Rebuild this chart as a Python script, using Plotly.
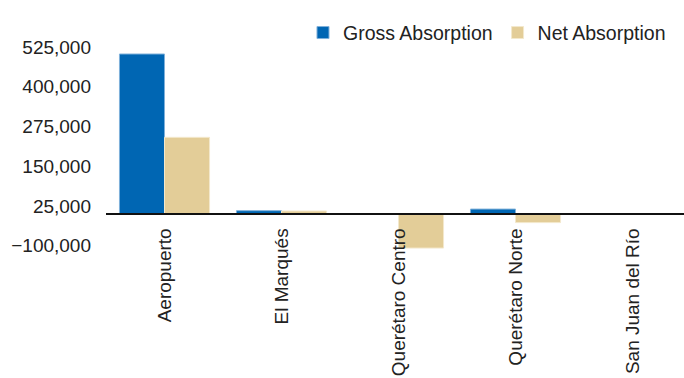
import plotly.graph_objects as go

categories = ["Aeropuerto", "El Marqués", "Querétaro Centro", "Querétaro Norte", "San Juan del Río"]
gross_absorption = [503000, 10500, 0, 15500, 0]
net_absorption = [241000, 9500, -107000, -27000, 0]
y_ticks = [-100000, 25000, 150000, 275000, 400000, 525000]

y_range = [-110000, 525000]
zero_pos = (0 - y_range[0]) / (y_range[1] - y_range[0])

FONT = "Liberation Sans"
TXT = "#222222"

fig = go.Figure()
fig.add_trace(go.Bar(
    x=categories, y=gross_absorption, name="Gross Absorption",
    marker=dict(color="#0066b3", line=dict(color="#7fb0da", width=1)),
))
fig.add_trace(go.Bar(
    x=categories, y=net_absorption, name="Net Absorption",
    marker=dict(color="#e3cd98", line=dict(color="#f3e8cc", width=1)),
))

fig.update_layout(
    width=684, height=378,
    margin=dict(l=106, r=0, t=47, b=129, pad=0),
    paper_bgcolor="white", plot_bgcolor="white",
    font=dict(family=FONT, size=19, color=TXT),
    barmode="group", bargap=0.23, bargroupgap=0,
    showlegend=True,
    legend=dict(orientation="h", x=0.9775, xanchor="right", y=1.07, yanchor="middle",
                font=dict(family=FONT, size=19.5, color=TXT), bgcolor="rgba(0,0,0,0)",
                itemclick=False),
    xaxis=dict(
        type="category", range=[-0.5, 4.44],
        anchor="free", position=zero_pos,
        showline=True, linecolor="#111111", linewidth=1.5,
        ticks="", tickangle=-90, showgrid=False, zeroline=False,
        tickfont=dict(family=FONT, size=19, color=TXT),
        ticklabelstandoff=6,
    ),
    yaxis=dict(
        range=y_range, tickvals=y_ticks, tickformat=",",
        showline=False, showgrid=False, zeroline=False, ticks="",
        tickfont=dict(family=FONT, size=19, color=TXT),
        ticklabelstandoff=14,
    ),
)

fig.write_html("out.html")
